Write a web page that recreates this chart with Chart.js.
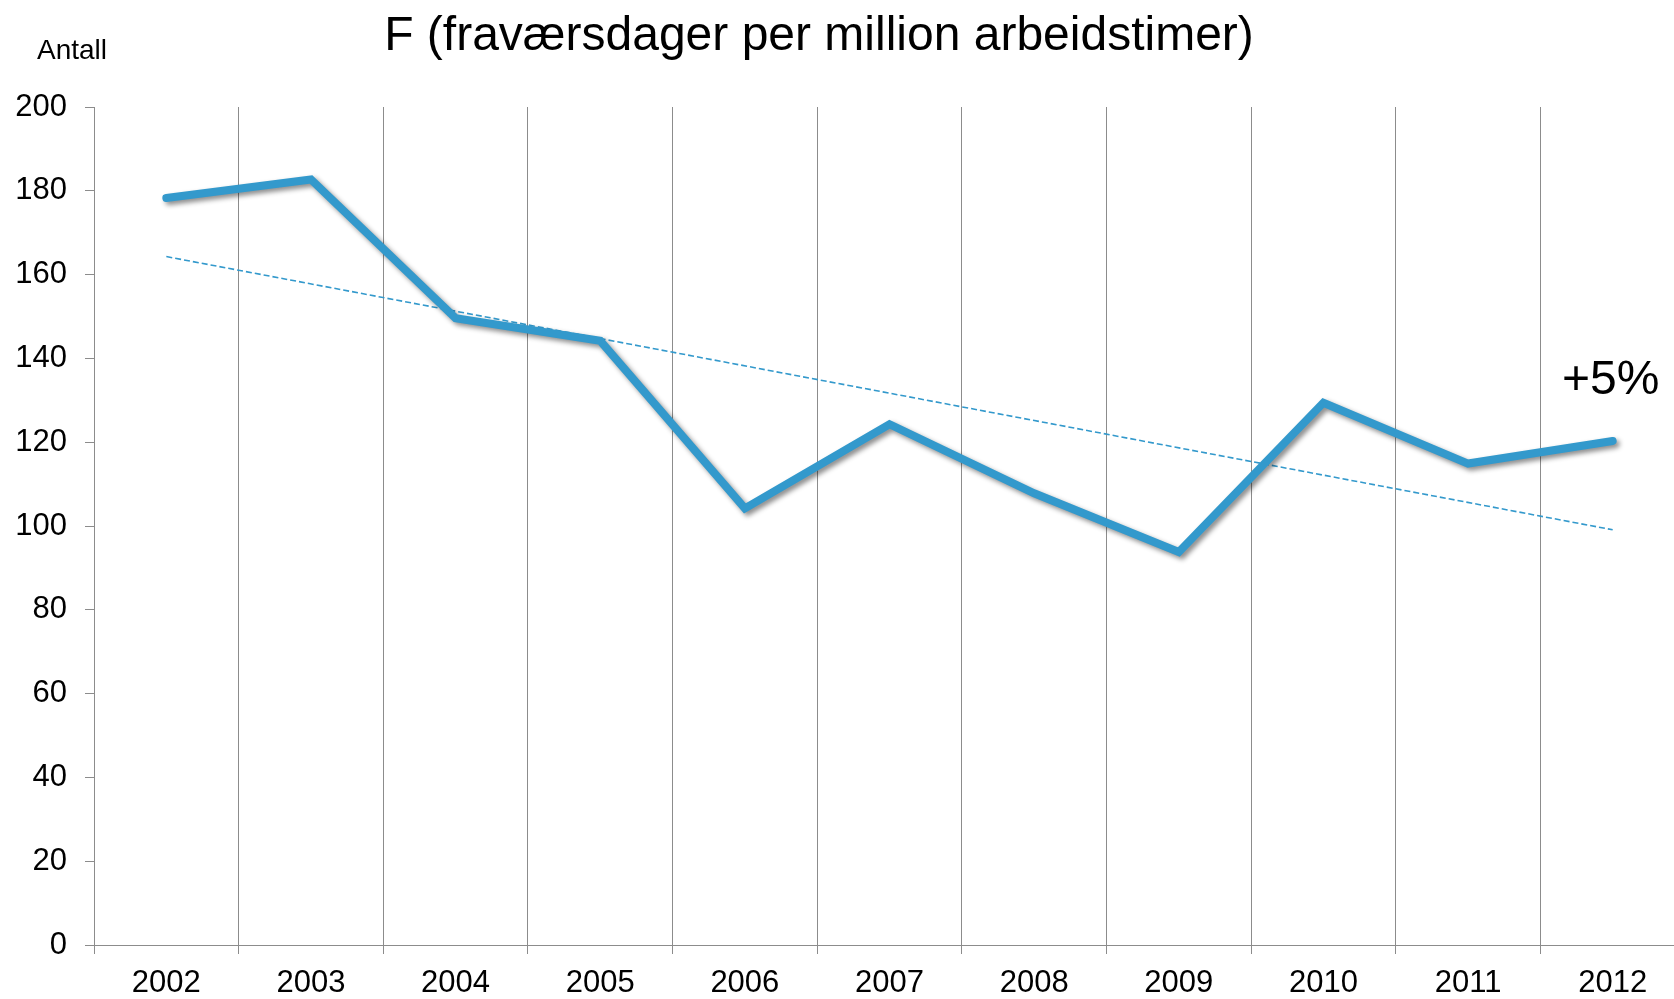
<!DOCTYPE html>
<html>
<head>
<meta charset="utf-8">
<script src="https://cdn.jsdelivr.net/npm/chart.js@4.4.1/dist/chart.umd.min.js"></script>
<style>
    html, body { margin: 0; padding: 0; background: #fff; overflow: hidden; }
    #wrap { width: 1700px; height: 999px; }
</style>
</head>
<body>
<div id="wrap"><canvas id="chart" width="1700" height="999"></canvas></div>
<script>
const years = ["2002", "2003", "2004", "2005", "2006", "2007", "2008", "2009", "2010", "2011", "2012"];
const fravaer = [178.3, 182.7, 149.6, 144.2, 104.2, 124.3, 107.8, 93.8, 129.4, 114.9, 120.3];
// trend line, read at its two ends
const trend = [164.3, null, null, null, null, null, null, null, null, null, 99.1];

const titleText = "F (fraværsdager per million arbeidstimer)";
const unitText = "Antall";
const changeText = "+5%";

const FONT = "'Liberation Sans', Arial, sans-serif";
const GRID = "#8c8c8c";
const BLUE = "#3399cc";

// soft drop shadow under the main line
const shadowPlugin = {
    id: "lineShadow",
    beforeDatasetDraw(chart, args) {
        if (args.index !== 0) return;
        const ctx = chart.ctx;
        ctx.save();
        ctx.shadowColor = "rgba(0,0,0,0.45)";
        ctx.shadowBlur = 5;
        ctx.shadowOffsetX = 3;
        ctx.shadowOffsetY = 3;
    },
    afterDatasetDraw(chart, args) {
        if (args.index !== 0) return;
        chart.ctx.restore();
    }
};

const textPlugin = {
    id: "texts",
    afterDraw(chart) {
        const ctx = chart.ctx;
        ctx.save();
        ctx.fillStyle = "#000";
        ctx.textBaseline = "alphabetic";

        ctx.font = "48px " + FONT;
        ctx.textAlign = "center";
        ctx.fillText(titleText, 819, 50);

        ctx.font = "28px " + FONT;
        ctx.textAlign = "left";
        ctx.fillText(unitText, 37, 59);

        ctx.font = "48px " + FONT;
        ctx.fillText(changeText, 1562, 394);
        ctx.restore();
    }
};

new Chart(document.getElementById("chart"), {
    type: "line",
    data: {
        labels: years,
        datasets: [
            {
                data: fravaer,
                borderColor: BLUE,
                borderWidth: 8,
                borderCapStyle: "round",
                borderJoinStyle: "miter",
                pointRadius: 0,
                tension: 0
            },
            {
                data: trend,
                borderColor: BLUE,
                borderWidth: 1.6,
                borderDash: [6, 3],
                pointRadius: 0,
                spanGaps: true,
                tension: 0
            }
        ]
    },
    options: {
        responsive: false,
        animation: false,
        events: [],
        layout: { padding: { top: 107, right: 15, left: 0, bottom: 0 } },
        plugins: {
            legend: { display: false },
            title: { display: false },
            tooltip: { enabled: false }
        },
        scales: {
            x: {
                offset: true,
                grid: {
                    offset: true,
                    color: GRID,
                    lineWidth: 1,
                    tickLength: 9,
                    drawOnChartArea: true
                },
                border: { color: GRID, width: 1 },
                ticks: {
                    color: "#000",
                    font: { family: FONT, size: 31 },
                    padding: 11,
                    maxRotation: 0
                },
                afterFit(scale) { scale.height = 54; }
            },
            y: {
                min: 0,
                max: 200,
                grid: {
                    drawOnChartArea: false,
                    color: GRID,
                    tickLength: 9
                },
                border: { color: GRID, width: 1 },
                ticks: {
                    stepSize: 20,
                    color: "#000",
                    font: { family: FONT, size: 31 },
                    padding: 18
                },
                afterFit(scale) { scale.width = 94; }
            }
        }
    },
    plugins: [shadowPlugin, textPlugin]
});
</script>
</body>
</html>
